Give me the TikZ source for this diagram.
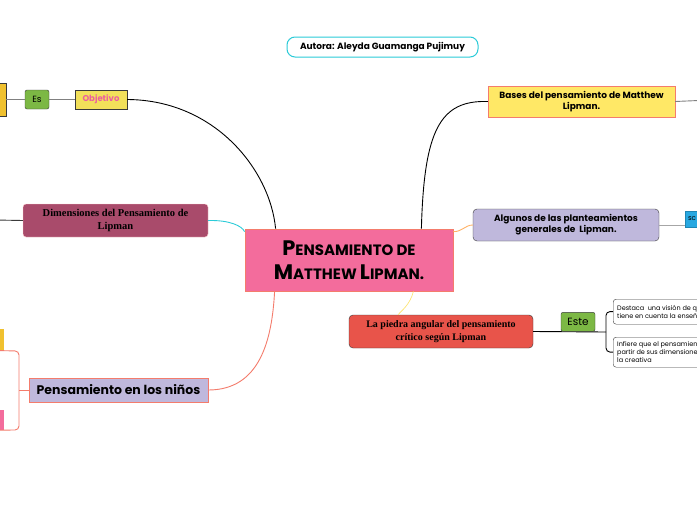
\documentclass[tikz,border=0pt]{standalone}
\usepackage{fontspec}
\setmainfont{Poppins}
\newfontfamily\boxserif{Liberation Serif}
\usetikzlibrary{positioning}
\definecolor{mapPink}{HTML}{F36C9C}
\definecolor{mapSalmon}{HTML}{F47C6C}
\definecolor{mapYellow}{HTML}{FFE866}
\definecolor{mapLav}{HTML}{BFB8DC}
\definecolor{mapRed}{HTML}{E8544A}
\definecolor{mapMaroon}{HTML}{A94B6B}
\definecolor{mapGreen}{HTML}{7CB844}
\definecolor{mapGold}{HTML}{F0C12F}
\definecolor{mapBlue}{HTML}{28A8E1}
\definecolor{mapObj}{HTML}{F2E05A}
\definecolor{mapObjText}{HTML}{EC5F9E}
\definecolor{mapCyan}{HTML}{2BCBD8}
\definecolor{mapDark}{HTML}{3A3A3A}
\newcommand{\ctrcap}[1]{{\fontsize{21}{24}\selectfont #1}}
\tikzset{
  topic/.style={draw, align=center, inner sep=0pt, font=\bfseries\fontsize{9}{11}\selectfont},
  tag/.style={draw=mapDark, fill=mapGreen, rounded corners=2pt, inner sep=0pt},
  note/.style={draw=mapDark, fill=white, rounded corners=3pt, align=left, inner sep=4pt,
    anchor=north west, font=\fontsize{6.5}{8}\selectfont},
  link/.style={line width=0.9pt}
}
\begin{document}
\begin{tikzpicture}[x=1pt, y=-1pt]
\useasboundingbox (0,0) rectangle (697,520);
\fill[white] (0,0) rectangle (697,520);
\clip (0,0) rectangle (697,520);

% title
\node[draw=mapCyan, line width=1pt, rounded corners=8pt, minimum width=191, minimum height=20,
  font=\bfseries\fontsize{9}{10}\selectfont] (autora) at (382.5,47) {Autora: Aleyda Guamanga Pujimuy};

% central topic
\node[draw=mapSalmon, fill=mapPink, line width=0.8pt, minimum width=208, minimum height=62,
  align=center, font=\bfseries\fontsize{15}{24}\selectfont] (ctr) at (349,260)
  {\ctrcap{P}ENSAMIENTO DE\\
   \ctrcap{M}ATTHEW \ctrcap{L}IPMAN.};

% upper left branch
\node[draw=mapDark, fill=mapGold, minimum width=26, minimum height=33, inner sep=0pt] (fuente) at (-7,99.5) {};
\node[tag, minimum width=24, minimum height=19, font=\fontsize{9}{10}\selectfont] (es) at (37,99.5) {Es};
\node[draw=mapDark, fill=mapObj, minimum width=52, minimum height=19, inner sep=0pt,
  text=mapObjText, font=\bfseries\fontsize{8.5}{9}\selectfont] (objetivo) at (101,99.5) {Objetivo};
\draw[gray, link] (fuente) -- (es);
\draw[gray, link] (es) -- (objetivo);
\draw[black, link] (objetivo.east) .. controls (215,100) and (270,170) .. ([xshift=31pt]ctr.north west);

% dimensiones
\node[topic, draw=pink!70, fill=mapMaroon, rounded corners=3pt, minimum width=185, minimum height=33,
  font=\boxserif\bfseries\fontsize{10.5}{13}\selectfont] (dimen) at (115.5,220.5)
  {Dimensiones del Pensamiento de\\Lipman};
\coordinate (dimenout) at (-5,220);
\draw[mapDark, link] (dimenout) -- (dimen.west);
\draw[mapCyan, link] (dimen.east) .. controls (230,220) and (242,226) .. ([yshift=-3pt]ctr.north west);

% ninos
\node[topic, draw=mapSalmon, fill=mapLav, minimum width=179, minimum height=24,
  font=\bfseries\fontsize{12.5}{14}\selectfont] (ninos) at (118.5,390) {Pensamiento en los niños};
\node[fill=mapGold, minimum width=24, minimum height=21, inner sep=0pt] (ninoA) at (-8,339.5) {};
\node[fill=mapPink, minimum width=24, minimum height=20, inner sep=0pt] (ninoB) at (-8,420) {};
\coordinate (brL) at (19,390);
\draw[mapSalmon, link] (ninos.west) -- (brL);
\draw[mapSalmon, link, rounded corners=4pt] (ninoA.south west) -- (19,351) -- (19,430) -- (ninoB.south west);
\draw[mapSalmon, link] (ninos.east) .. controls (260,390) and (272,340) .. ([xshift=30pt]ctr.south west);

% bases
\node[topic, draw=mapSalmon, fill=mapYellow, minimum width=187, minimum height=31] (bases) at (581.5,101.5)
  {Bases del pensamiento de Matthew\\Lipman.};
\coordinate (basesout) at (710,100);
\draw[gray, link] (bases.east) -- (basesout);
\draw[black, link] ([xshift=-32pt]ctr.north east) .. controls (424,130) and (440,100) .. (bases.west);

% algunos
\node[topic, draw=mapDark, fill=mapLav, rounded corners=4pt, minimum width=186, minimum height=32] (algunos) at (566,225)
  {Algunos de las planteamientos\\generales de\ \ Lipman.};
\node[draw=mapBlue!80!black, fill=mapBlue, minimum width=34, minimum height=16, inner sep=3pt,
  text width=28pt, align=left, font=\fontsize{7}{8}\selectfont] (sc) at (702,219) {sc};
\draw[gray!70, link] (algunos.east) -- (algunos.east -| sc.west);
\draw[orange!60, link] ([yshift=-3pt]ctr.north east) .. controls (462,232) and (465,225) .. (algunos.west);

% piedra angular
\node[topic, draw=mapDark, fill=mapRed, rounded corners=4pt, minimum width=184, minimum height=33,
  font=\boxserif\bfseries\fontsize{10}{13}\selectfont] (piedra) at (441,331.5)
  {La piedra angular del pensamiento\\crítico según Lipman};
\draw[yellow!70!orange!60, line width=0.6pt] ([xshift=-40pt]ctr.south east) .. controls (410,305) and (401,311) .. (piedra.north -| 398,0);
\coordinate (brR) at (606,332);
\draw[black, link] (piedra.east) -- (brR);
\node[tag, minimum width=34, minimum height=19, font=\fontsize{10.5}{11}\selectfont, anchor=south] (este) at (578,331.5) {Este};
\node[note, minimum height=25] (destaca) at (613,299) {Destaca\ \ una visión de que el pensamiento\\tiene en cuenta la enseñanza};
\node[note, minimum height=30] (infiere) at (613,337) {Infiere que el pensamiento se da a\\partir de sus dimensiones, la crítica y\\la creativa};
\draw[black, link, rounded corners=4pt] (destaca.west) -- (606,311.5) -- (606,352) -- (infiere.west);
\end{tikzpicture}
\end{document}
